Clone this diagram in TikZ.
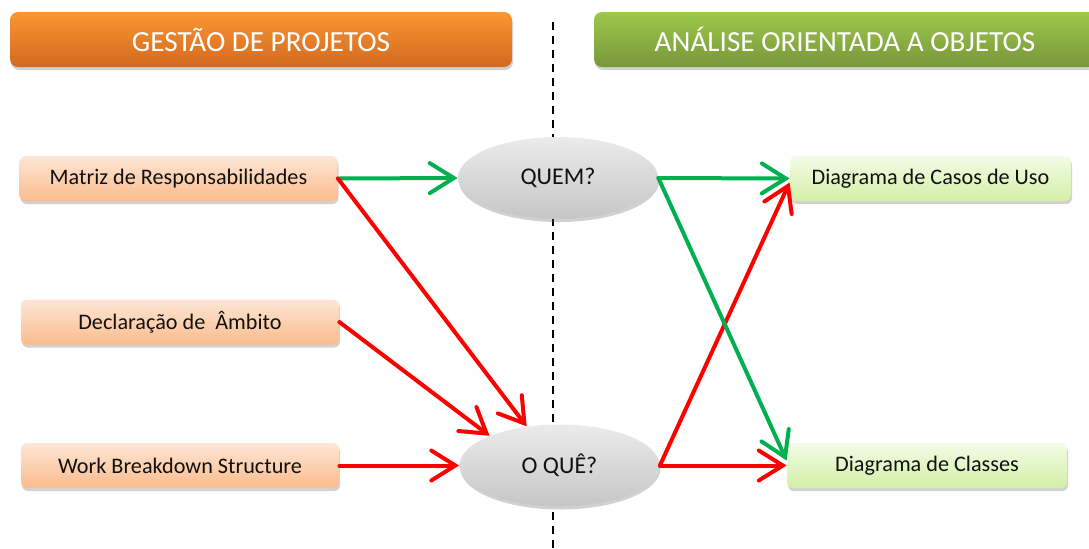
\documentclass[tikz,border=0pt]{standalone}
\usepackage{fontspec}
\setmainfont{Carlito}
\usetikzlibrary{arrows.meta,shapes.geometric,shadows}
\definecolor{orgtop}{HTML}{FA9634}
\definecolor{orgbot}{HTML}{D2691F}
\definecolor{grntop}{HTML}{9DC94B}
\definecolor{grnbot}{HTML}{78963A}
\definecolor{peachtop}{HTML}{FDE6D6}
\definecolor{peachbot}{HTML}{FBBC8C}
\definecolor{limetop}{HTML}{F3FBE6}
\definecolor{limebot}{HTML}{D3EFA6}
\definecolor{greytop}{HTML}{EBEBEB}
\definecolor{greybot}{HTML}{C6C6C6}
\definecolor{arrgreen}{HTML}{00B050}
\definecolor{arrred}{HTML}{FF0000}
\definecolor{txt}{HTML}{111111}
\begin{document}
\begin{tikzpicture}[x=0.5pt,y=-0.5pt,
  shade/.style={drop shadow={shadow xshift=0.5pt,shadow yshift=-1.5pt,opacity=0.3,fill=black!60}},
  hdr/.style={shade,rounded corners=4pt,minimum width=251pt,minimum height=27.5pt,text=white,font=\fontsize{14.6}{16}\selectfont},
  box/.style={shade,rounded corners=3pt,minimum width=159pt,minimum height=22.5pt,text=txt,font=\fontsize{11.1}{13}\selectfont},
  ask/.style={shade,ellipse,top color=greytop,bottom color=greybot,minimum width=100pt,minimum height=41pt,text=txt,font=\fontsize{12}{14}\selectfont},
  arr/.style={-{Straight Barb[length=12pt,width=15pt,line cap=round]},line width=2pt,line cap=round},
  grn/.style={arr,arrgreen},
  rd/.style={arr,arrred}]

\useasboundingbox (0,0) rectangle (1089,548);

% divider
\coordinate (top) at (553,22);
\coordinate (bot) at (553,548);
\draw[dash pattern=on 4pt off 3pt,line width=0.8pt] (top) -- (bot);

% headers
\node[hdr,top color=orgtop,bottom color=orgbot] (gp) at (261,39.5) {GESTÃO DE PROJETOS};
\node[hdr,top color=grntop,bottom color=grnbot] (aoo) at (845,39.5) {ANÁLISE ORIENTADA A OBJETOS};

% left column
\node[box,top color=peachtop,bottom color=peachbot] (m) at (178.5,178.5) {Matriz de Responsabilidades};
\node[box,top color=peachtop,bottom color=peachbot] (d) at (180,322) {Declaração de\ \ Âmbito};
\node[box,top color=peachtop,bottom color=peachbot] (w) at (180,465.5) {Work Breakdown Structure};

% questions
\node[ask] (quem) at (558,178) {QUEM?};
\node[ask] (oque) at (559.5,465.5) {O QUÊ?};

% right column
\node[box,minimum width=140.5pt,top color=limetop,bottom color=limebot] (uso) at (930.5,178.5) {Diagrama de Casos de Uso};
\node[box,minimum width=140pt,top color=limetop,bottom color=limebot] (cls) at (927,465.5) {Diagrama de Classes};

\draw[grn] (m.east) -- (quem.west);
\draw[rd] (m.east) -- (oque.130);
\draw[rd] (d.east) -- (oque.157);
\draw[rd] (w.east) -- (oque.west);

\draw[rd] (oque.east) -- ([yshift=-2pt]uso.west);
\draw[rd] (oque.east) -- (cls.west);
\draw[grn] (quem.east) -- (uso.west);
\draw[grn] (quem.east) -- ([yshift=2.5pt]cls.west);
\end{tikzpicture}
\end{document}
